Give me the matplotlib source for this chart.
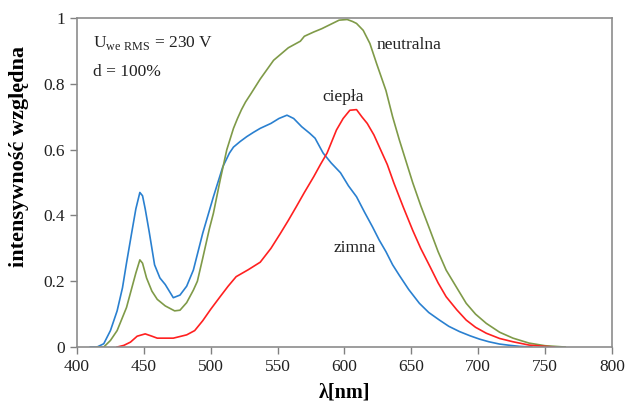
import numpy as np
import matplotlib
matplotlib.use("Agg")
import matplotlib.pyplot as plt

plt.rcParams['font.family'] = ['Liberation Serif', 'DejaVu Serif']

# zimna (cold white) spectrum
wl_zimna = [410, 415, 420, 425, 430, 434, 437, 441, 444, 447, 449, 451, 454, 458, 462,
            466, 472, 477, 482, 487, 494, 502, 509, 514, 517, 522, 527, 532, 537, 545, 551,
            557, 562, 568, 574, 578, 584, 590, 597, 603, 609, 615, 621, 626, 631, 636,
            641, 648, 656, 663, 671, 678, 686, 694, 701, 708, 716, 724, 731, 740]
i_zimna = [0, 0, 0.01, 0.05, 0.11, 0.18, 0.255, 0.35, 0.42, 0.47, 0.46, 0.42, 0.35, 0.25, 0.21,
           0.19, 0.15, 0.158, 0.185, 0.234, 0.346, 0.457, 0.548, 0.59, 0.608, 0.625, 0.64, 0.653, 0.665, 0.68, 0.695,
           0.705, 0.695, 0.67, 0.65, 0.635, 0.59, 0.56, 0.53, 0.49, 0.457, 0.41, 0.365, 0.325, 0.29, 0.25,
           0.218, 0.175, 0.133, 0.105, 0.082, 0.063, 0.047, 0.034, 0.024, 0.016, 0.009, 0.005, 0.002, 0]

# neutralna (neutral white) spectrum
wl_neutralna = [415, 420, 425, 430, 437, 441, 444, 447, 449, 452, 456, 460, 466, 473, 477,
                482, 487, 490, 494, 499, 502, 507, 512, 517, 520, 523, 526, 530, 537, 547, 558,
                567, 570, 577, 583, 590, 596, 602, 606, 609, 614, 619, 624, 631, 636, 641,
                646, 651, 657, 664, 670, 676, 684, 691, 698, 706, 716, 726, 738, 750, 765]
i_neutralna = [0, 0, 0.02, 0.05, 0.12, 0.18, 0.225, 0.265, 0.255, 0.21, 0.17, 0.145, 0.125, 0.11, 0.112,
               0.135, 0.173, 0.2, 0.27, 0.36, 0.407, 0.507, 0.6, 0.665, 0.695, 0.722, 0.745, 0.77, 0.815, 0.872, 0.91,
               0.93, 0.945, 0.958, 0.968, 0.982, 0.994, 0.996, 0.99, 0.984, 0.963, 0.923, 0.862, 0.78, 0.7, 0.63,
               0.565, 0.5, 0.43, 0.355, 0.29, 0.234, 0.18, 0.133, 0.1, 0.072, 0.045, 0.027, 0.012, 0.004, 0]

# ciepla (warm white) spectrum
wl_ciepla = [430, 435, 440, 445, 451, 456, 460, 472, 482, 488, 494, 500, 507, 513, 519,
             528, 537, 545, 552, 558, 564, 570, 577, 582, 587, 594, 599, 604, 609, 613,
             617, 622, 627, 632, 637, 644, 651, 657, 664, 670, 676, 684, 691, 698, 706,
             716, 726, 738, 750, 757]
i_ciepla = [0, 0.005, 0.015, 0.033, 0.04, 0.033, 0.027, 0.027, 0.037, 0.05, 0.08, 0.115, 0.153, 0.185, 0.214,
            0.235, 0.258, 0.3, 0.345, 0.385, 0.427, 0.47, 0.518, 0.555, 0.59, 0.66, 0.695, 0.72, 0.722, 0.7,
            0.68, 0.645, 0.6, 0.555, 0.498, 0.425, 0.355, 0.3, 0.244, 0.195, 0.153, 0.113, 0.082, 0.06, 0.042,
            0.026, 0.016, 0.006, 0.002, 0]

x_ticks = [400, 450, 500, 550, 600, 650, 700, 750, 800]
y_ticks = [0, 0.2, 0.4, 0.6, 0.8, 1]
y_ticklabels = ['0', '0.2', '0.4', '0.6', '0.8', '1']

fig = plt.figure(figsize=(6.26, 4.04), dpi=100)
ax = fig.add_axes([0.123, 0.141, 0.8546, 0.814])

ax.plot(wl_zimna, i_zimna, color='#2a80d0', lw=1.2)
ax.plot(wl_neutralna, i_neutralna, color='#7f9a48', lw=1.2)
ax.plot(wl_ciepla, i_ciepla, color='#ff2020', lw=1.2)

ax.set_xlim(400, 800)
ax.set_ylim(0, 1)
ax.set_xticks(x_ticks)
ax.set_yticks(y_ticks)
ax.set_yticklabels(y_ticklabels)
ax.tick_params(direction='out', length=5, width=1, color='#808080', labelsize=12.5,
               labelcolor='#222222')
for s in ax.spines.values():
    s.set_color('#8c8c8c')
    s.set_linewidth(1.2)

ax.set_xlabel('λ[nm]', fontsize=14.5, fontweight='bold')
ax.xaxis.set_label_coords(0.5, -0.108)
ax.set_ylabel('intensywność względna', fontsize=16, fontweight='bold')
ax.yaxis.set_label_coords(-0.09, 0.58)

# series labels
ax.text(624, 0.918, 'neutralna', fontsize=12.5, ha='left', va='center', color='#222222')
ax.text(599, 0.76, 'ciepła', fontsize=12.5, ha='center', va='center', color='#222222')
ax.text(608, 0.30, 'zimna', fontsize=12.5, ha='center', va='center', color='#222222')

# measurement conditions
ax.text(412, 0.924, r'U$_{\mathregular{we\ RMS}}$ = 230 V', fontsize=12.5, ha='left', va='center',
        color='#222222')
ax.text(412, 0.836, 'd = 100%', fontsize=12.5, ha='left', va='center', color='#222222')

fig.savefig('out.png', dpi=100)
